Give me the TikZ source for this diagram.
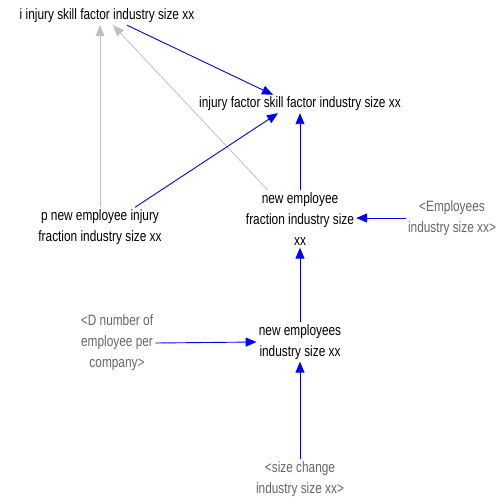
\documentclass[tikz,border=0pt]{standalone}
\usepackage{fontspec}
\setmainfont{Liberation Sans}[FakeStretch=0.79]
\usetikzlibrary{arrows.meta,calc}
\begin{document}
\begin{tikzpicture}[x=1pt,y=-1pt,
  lbl/.style={font=\fontsize{15}{21}\selectfont, align=center, inner sep=2pt, text=black},
  shadow/.style={lbl, text=black!60},
  blu/.style={draw=blue, line width=0.9pt, -{Triangle[length=11pt,width=9pt]}},
  gry/.style={draw=black!25, line width=0.8pt, -{Triangle[length=11pt,width=9pt]}}]
\useasboundingbox (0,0) rectangle (496,501);
\node[lbl] (iin) at (107,16) {i injury skill factor industry size xx};
\node[lbl] (ifs) at (300,104) {injury factor skill factor industry size xx};
\node[lbl] (nef) at (300,219) {new employee\\fraction industry size\\xx};
\node[shadow] (emp) at (452,218) {<Employees\\industry size xx>};
\node[lbl] (pne) at (100,227) {p new employee injury\\fraction industry size xx};
\node[shadow] (dno) at (117,343) {<D number of\\employee per\\company>};
\node[lbl] (nes) at (300,342) {new employees\\industry size xx};
\node[shadow] (sch) at (300,479) {<size change\\industry size xx>};
\draw[gry] (pne.north) -- (pne.north |- iin.south);
\draw[gry] ($(nef.north)+(-32,0)$) -- ($(iin.south)+(6,0)$);
\draw[blu] ($(iin.south)+(20,0)$) -- ($(ifs.north)+(-27,0)$);
\draw[blu] ($(pne.north)+(35,0)$) -- ($(ifs.south)+(-22,0)$);
\draw[blu] (nef) -- (ifs);
\draw[blu] (emp.west) -- (nef.east |- emp.west);
\draw[blu] (nes) -- (nef);
\draw[blu] (dno.east) -- (nes.west);
\draw[blu] (sch) -- (nes);
\end{tikzpicture}
\end{document}
